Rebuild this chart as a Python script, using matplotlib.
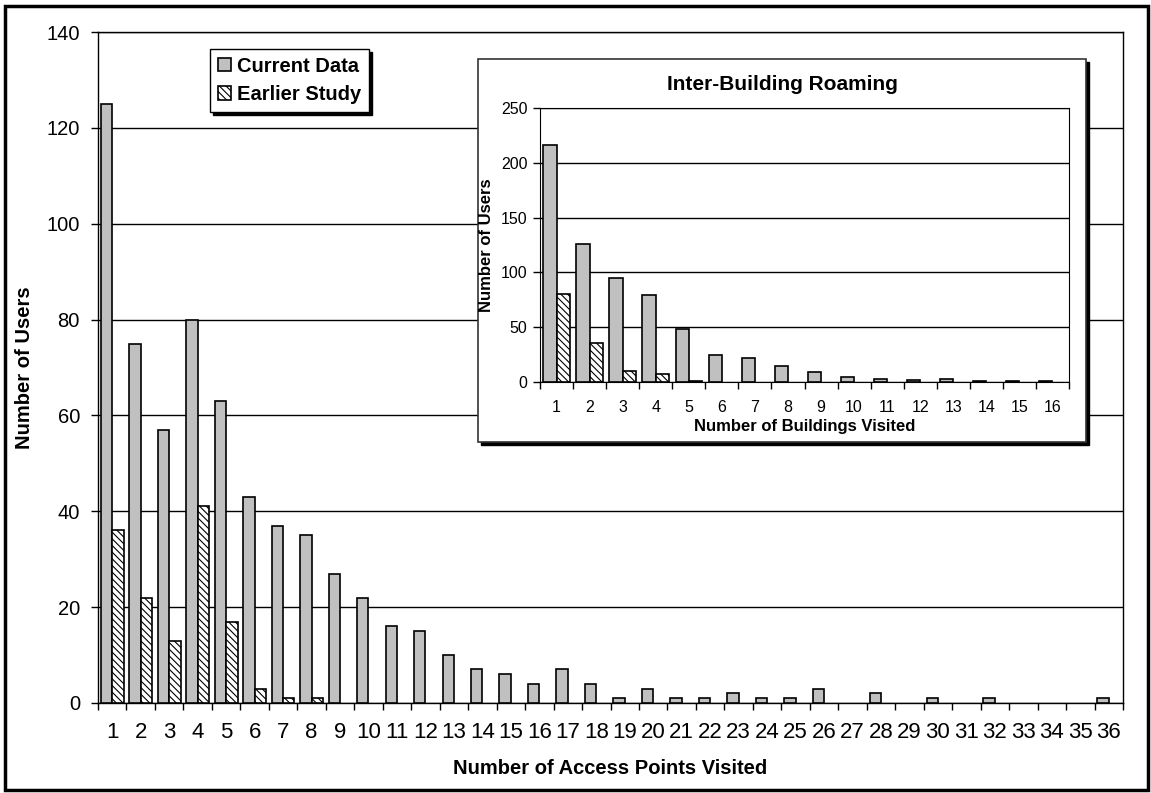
import numpy as np
import matplotlib.pyplot as plt
from matplotlib.patches import Rectangle

plt.rcParams['font.family'] = ['Liberation Sans', 'DejaVu Sans']
plt.rcParams['hatch.linewidth'] = 0.8

# main chart: access points visited
ap_visited = np.arange(1, 37)
ap_current = np.array([125, 75, 57, 80, 63, 43, 37, 35, 27, 22, 16, 15, 10, 7, 6, 4, 7, 4,
                       1, 3, 1, 1, 2, 1, 1, 3, 0, 2, 0, 1, 0, 1, 0, 0, 0, 1])
ap_earlier = np.array([36, 22, 13, 41, 17, 3, 1, 1] + [0] * 28)

# inset: buildings visited
bld_visited = np.arange(1, 17)
bld_current = np.array([216, 126, 95, 79, 48, 25, 22, 15, 9, 5, 3, 2, 3, 1, 1, 1])
bld_earlier = np.array([80, 36, 10, 7, 1] + [0] * 11)

GRAY = '#c0c0c0'
HATCH = '\\' * 5
W, H = 1151, 793

fig = plt.figure(figsize=(W / 100, H / 100), dpi=100)
fig.patch.set_facecolor('white')

# outer frame
fig.add_artist(Rectangle((5 / W, 3 / H), 1143 / W, 784 / H, transform=fig.transFigure,
                         fill=False, edgecolor='black', linewidth=2.5))


def draw_bars(axis, x, current, earlier, label=True):
    # zero counts are left empty, as in the original
    c = current > 0
    e = earlier > 0
    axis.bar(x[c] - 0.2, current[c], width=0.4, color=GRAY, edgecolor='black',
             linewidth=1.2, label='Current Data' if label else None, zorder=3)
    axis.bar(x[e] + 0.2, earlier[e], width=0.4, color='white', edgecolor='black',
             hatch=HATCH, linewidth=1.2, label='Earlier Study' if label else None, zorder=3)


# ---- main chart
ax = fig.add_axes([98 / W, (H - 703) / H, 1025 / W, 671 / H])
draw_bars(ax, ap_visited, ap_current, ap_earlier)
ax.set_xlim(0.5, 36.5)
ax.set_ylim(0, 140)
ax.set_yticks(np.arange(0, 141, 20))
ax.set_xticks(ap_visited)
ax.set_xticks(np.arange(0.5, 37, 1), minor=True)
ax.tick_params(axis='x', which='major', length=0, pad=14, labelsize=16)
ax.tick_params(axis='x', which='minor', length=5, width=1, direction='out')
ax.tick_params(axis='y', length=5, width=1, direction='out', pad=8, labelsize=14.5)
ax.yaxis.grid(True, color='black', linewidth=1)
ax.set_axisbelow(True)
for s in ax.spines.values():
    s.set_linewidth(1)
ax.set_xlabel('Number of Access Points Visited', fontsize=14.5, fontweight='bold', labelpad=11)
ax.set_ylabel('Number of Users', fontsize=14.5, fontweight='bold', labelpad=9)

leg = ax.legend(loc='upper left', bbox_to_anchor=(0.109, 0.975),
                prop={'weight': 'bold', 'size': 14.5}, frameon=True, fancybox=False,
                edgecolor='black', framealpha=1, handlelength=0.65, handleheight=0.65,
                handletextpad=0.3, borderpad=0.4, labelspacing=0.45, borderaxespad=0,
                shadow={'color': 'black', 'alpha': 1})
leg.get_frame().set_linewidth(1)

# ---- inset frame with shadow
fax = fig.add_axes([0, 0, 1, 1], zorder=1)
fax.set_axis_off()
fax.set_xlim(0, W)
fax.set_ylim(H, 0)
fax.add_patch(Rectangle((481, 62), 608, 383, facecolor='black', edgecolor='black'))
fax.add_patch(Rectangle((478, 59), 608, 383, facecolor='white', edgecolor='#333333',
                        linewidth=1.2))
fax.text(782, 85, 'Inter-Building Roaming', fontsize=15, fontweight='bold',
         ha='center', va='center')

# ---- inset chart
ix = fig.add_axes([540 / W, (H - 382) / H, 529 / W, 274 / H], zorder=2)
draw_bars(ix, bld_visited, bld_current, bld_earlier, label=False)
ix.set_xlim(0.5, 16.5)
ix.set_ylim(0, 250)
ix.set_yticks(np.arange(0, 251, 50))
ix.set_xticks(bld_visited)
ix.set_xticks(np.arange(0.5, 17, 1), minor=True)
ix.tick_params(axis='x', which='major', length=0, pad=13, labelsize=11.5)
ix.tick_params(axis='x', which='minor', length=5, width=1, direction='out')
ix.tick_params(axis='y', length=5, width=1, direction='out', pad=4, labelsize=11.5)
ix.yaxis.grid(True, color='black', linewidth=1)
ix.set_axisbelow(True)
ix.set_xlabel('Number of Buildings Visited', fontsize=12, fontweight='bold', labelpad=3)
ix.set_ylabel('Number of Users', fontsize=12, fontweight='bold', labelpad=5)

fig.savefig('out.png', dpi=100, facecolor='white')
